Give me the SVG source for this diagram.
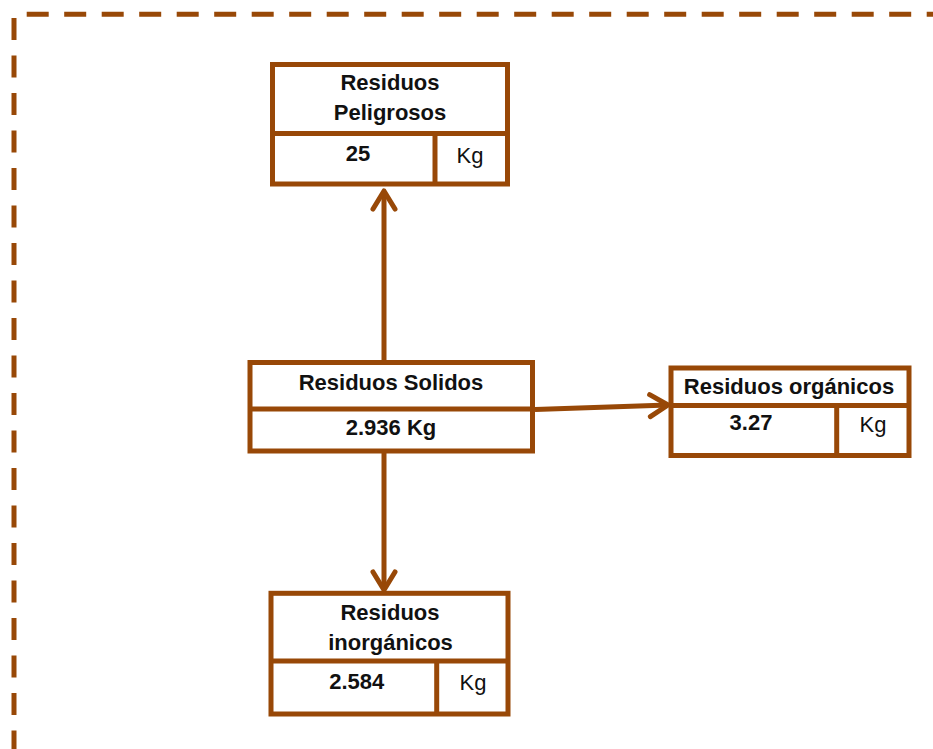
<svg xmlns="http://www.w3.org/2000/svg" width="933" height="749" viewBox="0 0 933 749">
<style>
.frame{fill:none;stroke:#984807;stroke-width:5;stroke-dasharray:22 15.5}
.box{fill:#fff;stroke:#984807;stroke-width:5}
.div{stroke:#984807;stroke-width:5;fill:none}
.conn{stroke:#984807;stroke-width:5;fill:none}
.t{font-family:"Liberation Sans",Arial,sans-serif;font-size:22px;font-weight:bold;fill:#111;text-anchor:middle}
.u{font-family:"Liberation Sans",Arial,sans-serif;font-size:22px;font-weight:normal;fill:#111;text-anchor:middle}
</style>
<defs>
<marker id="arr" markerUnits="userSpaceOnUse" viewBox="-25 -16 30 32" markerWidth="30" markerHeight="32" refX="0" refY="0" orient="auto">
<path d="M-18,-11 L0,0 L-18,11" fill="none" stroke="#984807" stroke-width="5" stroke-linecap="round" stroke-linejoin="round"/>
</marker>
</defs>
<rect width="933" height="749" fill="#fff"/>
<g id="frame">
<line class="frame" x1="26.7" y1="14.3" x2="940" y2="14.3"/>
<line class="frame" x1="14" y1="18" x2="14" y2="760"/>
<line class="frame" x1="15.5" y1="751.8" x2="940" y2="751.8" stroke-opacity="0.3"/>
</g>
<g id="connectors">
<line class="conn" x1="384" y1="360" x2="384" y2="191" marker-end="url(#arr)"/>
<line class="conn" x1="384" y1="453" x2="384" y2="590" marker-end="url(#arr)"/>
<line class="conn" x1="535" y1="409.5" x2="668" y2="405" marker-end="url(#arr)"/>
</g>
<g id="peligrosos">
<rect class="box" x="272.5" y="64.5" width="235" height="119.5"/>
<line class="div" x1="272.5" y1="133.5" x2="507.5" y2="133.5"/>
<line class="div" x1="435" y1="133.5" x2="435" y2="184"/>
<text class="t" x="390" y="90">Residuos</text>
<text class="t" x="390" y="120">Peligrosos</text>
<text class="t" x="358" y="161">25</text>
<text class="u" x="470" y="163">Kg</text>
</g>
<g id="solidos">
<rect class="box" x="250" y="362.5" width="282.5" height="88.5"/>
<line class="div" x1="250" y1="409" x2="532.5" y2="409"/>
<text class="t" x="391" y="389.5">Residuos Solidos</text>
<text class="t" x="391" y="435">2.936 Kg</text>
</g>
<g id="organicos">
<rect class="box" x="671" y="368" width="238" height="87.5"/>
<line class="div" x1="671" y1="405.5" x2="909" y2="405.5"/>
<line class="div" x1="836.7" y1="405.5" x2="836.7" y2="455.5"/>
<text class="t" x="789" y="393.5">Residuos orgánicos</text>
<text class="t" x="751" y="430">3.27</text>
<text class="u" x="873" y="432">Kg</text>
</g>
<g id="inorganicos">
<rect class="box" x="271" y="593.3" width="237" height="120.7"/>
<line class="div" x1="271" y1="661" x2="508" y2="661"/>
<line class="div" x1="436.7" y1="661" x2="436.7" y2="714"/>
<text class="t" x="390" y="619.5">Residuos</text>
<text class="t" x="390.5" y="650">inorgánicos</text>
<text class="t" x="356.7" y="688.5">2.584</text>
<text class="u" x="473" y="690">Kg</text>
</g>
</svg>
